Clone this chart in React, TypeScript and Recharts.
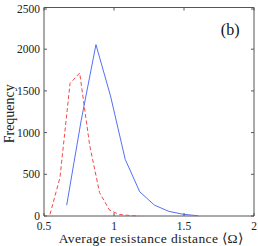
import { LineChart, Line, XAxis, YAxis, ReferenceArea } from "recharts";

// blue solid histogram (bin centres, counts)
const blueX = [0.662, 0.766, 0.871, 0.975, 1.08, 1.184, 1.289, 1.393, 1.498, 1.602];
const blueY = [130, 1150, 2055, 1440, 680, 290, 130, 55, 20, 3];

// red dashed histogram
const redX = [0.543, 0.614, 0.686, 0.755, 0.826, 0.897, 0.968, 1.039, 1.11, 1.18];
const redY = [20, 460, 1590, 1715, 850, 280, 70, 18, 6, 0];

const xTicks = [0.5, 1, 1.5, 2];
const yTicks = [0, 500, 1000, 1500, 2000, 2500];

const blueData = blueX.map((x, i) => ({ x, y: blueY[i] }));
const redData = redX.map((x, i) => ({ x, y: redY[i] }));

const W = 258;
const H = 246;
const M = { top: 7.5, right: 4, left: 0, bottom: 0 };
const Y_W = 44;
const X_H = 30;
const LEFT = M.left + Y_W;
const RIGHT = W - M.right;
const TOP = M.top;
const BOTTOM = H - M.bottom - X_H;
const TL = 3;
const AX = "#555";
const FONT = "'Liberation Serif', 'Times New Roman', serif";

const XTick = ({ x, y, payload }: any) => (
  <g>
    <line x1={x} y1={BOTTOM} x2={x} y2={BOTTOM - TL} stroke={AX} />
    <line x1={x} y1={TOP} x2={x} y2={TOP + TL} stroke={AX} />
    <text x={x} y={y + 12} textAnchor="middle" fontSize={11.5} fill="#222" fontFamily={FONT}>
      {payload.value}
    </text>
  </g>
);

const YTick = ({ x, y, payload }: any) => (
  <g>
    <line x1={LEFT} y1={y} x2={LEFT + TL} y2={y} stroke={AX} />
    <line x1={RIGHT} y1={y} x2={RIGHT - TL} y2={y} stroke={AX} />
    <text x={x - 2} y={y + 4} textAnchor="end" fontSize={11.5} fill="#222" fontFamily={FONT}>
      {payload.value}
    </text>
  </g>
);

export default function App() {
  return (
    <div style={{ position: "absolute", left: 0, top: 0, background: "#fff" }}>
      <LineChart width={W} height={H} margin={M}>
        <XAxis
          type="number"
          dataKey="x"
          domain={[0.5, 2]}
          ticks={xTicks}
          allowDataOverflow
          height={X_H}
          tickSize={0}
          tickLine={false}
          axisLine={false}
          tick={<XTick />}
          label={{
            content: (p: any) => (
              <text
                x={p.viewBox.x + p.viewBox.width / 2 + 2}
                y={p.viewBox.y + 26.5}
                textAnchor="middle"
                fontSize={13.5}
                letterSpacing={0.4}
                fill="#222"
                fontFamily={FONT}
              >
                Average resistance distance ⟨Ω⟩
              </text>
            ),
          }}
        />
        <YAxis
          type="number"
          domain={[0, 2500]}
          ticks={yTicks}
          width={Y_W}
          tickSize={0}
          tickLine={false}
          axisLine={false}
          tick={<YTick />}
          label={{
            content: (p: any) => {
              const cx = 9;
              const cy = p.viewBox.y + p.viewBox.height / 2 + 2;
              return (
                <text
                  x={cx}
                  y={cy}
                  transform={`rotate(-90 ${cx} ${cy})`}
                  textAnchor="middle"
                  dominantBaseline="central"
                  fontSize={14}
                  fill="#222"
                  fontFamily={FONT}
                >
                  Frequency
                </text>
              );
            },
          }}
        />
        <ReferenceArea
          x1={0.5}
          x2={2}
          y1={0}
          y2={2500}
          fill="none"
          stroke={AX}
          strokeWidth={1}
          label={{
            content: (p: any) => (
              <text
                x={p.viewBox.x + p.viewBox.width - 14.5}
                y={p.viewBox.y + 27}
                textAnchor="end"
                fontSize={16}
                fill="#111"
                fontFamily={FONT}
              >
                (b)
              </text>
            ),
          }}
        />
        <Line
          data={redData}
          dataKey="y"
          type="linear"
          stroke="#f04a4a"
          strokeWidth={1}
          strokeDasharray="4 2.5"
          dot={false}
          isAnimationActive={false}
        />
        <Line
          data={blueData}
          dataKey="y"
          type="linear"
          stroke="#5470f5"
          strokeWidth={1}
          dot={false}
          isAnimationActive={false}
        />
      </LineChart>
    </div>
  );
}
